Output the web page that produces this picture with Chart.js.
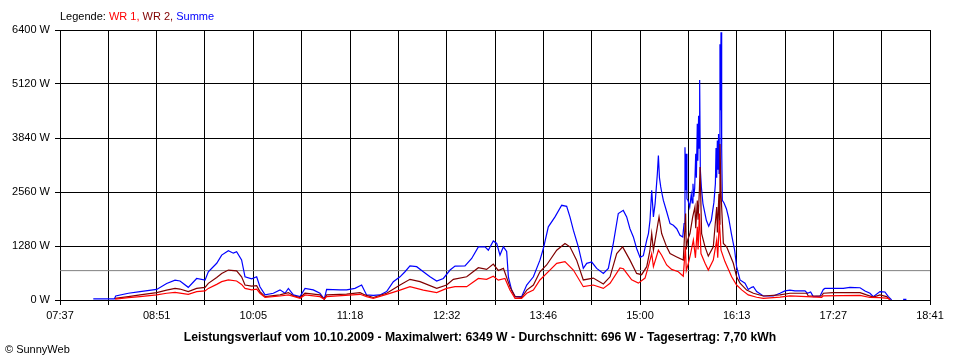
<!DOCTYPE html>
<html>
<head>
<meta charset="utf-8">
<script src="https://cdn.jsdelivr.net/npm/chart.js@4/dist/chart.umd.min.js"></script>
<style>
  html, body { margin: 0; padding: 0; background: #fff; }
  #wrap { position: relative; width: 960px; height: 360px; overflow: hidden; background: #fff; }
  canvas { position: absolute; left: 0; top: 0; }
  .txt { position: absolute; font-family: Arial, "Liberation Sans", sans-serif; color: #000; white-space: nowrap; }
  #legend { left: 60px; top: 11px; font-size: 11px; line-height: 11px; }
  #footer { left: 0; width: 960px; top: 330px; text-align: center; font-size: 12.2px; line-height: 14px; font-weight: bold; }
  #copy { left: 5px; top: 343px; font-size: 11px; line-height: 13px; }
</style>
</head>
<body>
<div id="wrap">
  <canvas id="c" width="960" height="360"></canvas>
  <div class="txt" id="legend">Legende: <span style="color:#ff0000">WR 1,</span> <span style="color:#800000">WR 2,</span> <span style="color:#0000ff">Summe</span></div>
  <div class="txt" id="footer">Leistungsverlauf vom 10.10.2009 - Maximalwert: 6349 W - Durchschnitt: 696 W - Tagesertrag: 7,70 kWh</div>
  <div class="txt" id="copy">© SunnyWeb</div>
</div>
<script>
// ---- data (time in minutes after midnight, power in W) ----
const xTickLabels = ['07:37','08:51','10:05','11:18','12:32','13:46','15:00','16:13','17:27','18:41'];
const yMax = 6400;
const yStep = 1280;
const avgWatt = 696;

const sumTime = [482.4,498.5,499.5,509.2,518.1,530.8,538.4,544.8,548.6,554.9,561.3,567.7,570.2,576.6,580.4,585.5,589.3,591.8,595.6,598.2,603.3,607.1,609.6,613.5,619.8,624.9,628.7,631.3,635.1,640.2,644.0,650.3,655.4,658.7,660.5,670.7,675.8,682.1,687.2,691.0,696.1,701.2,706.3,711.4,716.5,720.3,724.1,729.2,734.3,739.4,744.5,749.6,754.7,758.5,766.1,771.2,776.3,781.4,783.9,787.7,790.3,792.8,795.4,797.9,799.2,801.7,804.3,809.3,813.2,818.3,823.3,825.9,829.7,834.8,839.9,843.7,846.2,848.8,852.6,856.4,859.0,862.8,866.6,871.7,875.5,879.3,883.1,886.9,889.5,892.0,894.6,897.1,899.7,902.2,904.8,906.1,907.3,908.6,909.9,911.2,912.9,913.7,914.5,915.5,916.2,917.5,920.1,922.6,925.1,927.7,930.2,932.3,933.3,934.0,934.5,935.0,935.5,936.3,937.6,938.8,939.5,940.1,940.7,941.4,942.2,942.7,943.4,943.8,944.4,944.8,945.2,945.7,946.5,947.7,950.3,952.1,954.1,956.1,957.2,957.7,958.2,958.7,959.2,959.6,960.0,960.7,961.1,961.5,962.0,962.5,963.8,965.6,967.3,969.4,971.9,973.4,976.0,979.8,982.3,984.9,986.2,988.7,993.8,1001.4,1006.5,1010.3,1014.1,1017.9,1025.6,1027.4,1029.9,1031.9,1037.0,1039.6,1040.8,1047.2,1054.8,1059.9,1067.6,1071.4,1075.2,1077.7,1082.8,1086.6,1089.2,1091.7,1096.0,1100.5,1103.0];
const sumWatt = [25,25,95,160,200,250,390,470,450,300,510,470,670,870,1065,1170,1110,1145,950,550,500,550,315,120,160,240,160,275,120,80,275,240,160,20,250,240,240,275,355,120,110,120,200,435,550,670,810,790,670,550,450,510,710,805,810,985,1260,1260,1180,1400,1340,1065,1260,1150,550,235,80,80,355,550,945,1220,1735,1970,2245,2220,1970,1655,1260,750,870,900,750,630,750,1340,2050,2125,1970,1690,1495,1220,1010,1050,1420,1575,1890,2600,1970,2285,2990,3425,2900,2680,2560,2360,2085,1810,1770,1690,1535,1495,1810,3620,2600,3465,2400,2360,2200,2500,2300,2755,2450,2650,3465,2900,4175,3300,4370,3600,5215,3100,2680,2285,1890,1750,1890,2320,2755,3600,2900,3780,3100,3935,3000,6065,4500,6349,3600,2360,2300,2165,1950,1575,1180,790,475,400,250,300,315,200,95,95,160,215,235,215,215,160,190,80,90,250,275,275,275,300,290,215,160,80,200,190,80,0,null,15,15];

const wr2Time = [499.0,509.2,518.1,530.8,538.4,544.8,548.6,554.9,561.3,567.7,570.2,576.6,580.4,585.5,591.8,595.6,598.2,603.3,607.1,609.6,613.5,624.9,631.3,635.1,640.2,644.0,655.4,658.7,660.5,675.7,686.0,689.8,696.1,706.3,716.5,724.1,731.8,744.5,752.1,757.2,767.4,776.3,782.6,787.7,791.5,795.4,800.4,804.3,809.3,813.2,818.3,823.3,828.4,836.1,842.4,846.2,851.3,856.4,864.0,871.7,876.8,881.9,886.4,892.0,897.1,900.9,904.8,907.3,908.6,909.9,912.9,914.2,916.2,920.0,922.6,927.7,932.7,934.5,935.0,936.0,937.8,939.9,941.6,942.2,943.4,944.0,945.0,945.5,946.7,949.3,951.8,955.6,958.2,958.7,959.9,960.3,960.7,961.5,963.3,965.8,970.9,973.4,976.0,981.1,986.2,993.8,1006.5,1014.1,1026.9,1028.1,1038.3,1039.6,1047.2,1067.6,1072.6,1077.7,1082.8,1087.9,1090.5];
const wr2Watt = [40,80,120,175,235,275,260,200,275,300,395,535,630,710,690,550,355,330,340,200,80,120,175,100,60,160,120,20,120,140,175,120,60,160,355,490,435,275,355,490,550,765,725,850,700,750,315,80,60,235,355,670,830,1180,1340,1260,945,475,520,380,550,1100,1260,945,630,600,790,1180,1575,1180,1735,1970,1575,1260,1100,1020,945,2050,1200,1420,1575,1970,2205,1700,2360,1900,2600,3150,1575,1260,1040,1260,2205,1600,2520,1800,3700,2520,1340,1260,870,550,400,235,160,95,120,160,160,95,95,160,175,175,120,70,120,80,0];

const wr1Time = [499.0,509.2,518.1,530.8,538.4,544.8,554.9,561.3,567.7,570.2,576.6,580.4,585.5,591.8,595.6,598.2,603.3,607.1,609.6,613.5,624.9,631.3,640.2,644.0,655.4,658.7,660.5,686.0,691.0,696.1,706.3,716.5,724.1,734.3,744.5,752.1,758.5,767.4,776.3,782.6,787.7,791.5,796.6,800.4,804.3,809.3,813.2,818.3,823.3,828.4,836.1,842.4,848.8,856.4,864.0,871.7,876.8,884.4,887.0,893.3,898.4,903.5,906.0,908.6,909.9,913.7,916.2,920.0,923.8,928.9,932.7,934.3,935.0,936.6,938.3,940.4,942.0,943.4,944.0,945.0,946.2,949.3,951.8,955.6,958.2,959.0,960.2,961.5,964.5,969.6,973.4,977.3,982.3,988.7,993.8,1006.5,1014.1,1026.9,1038.3,1039.6,1067.6,1075.2,1082.8,1089.2,1090.5];
const wr1Watt = [20,55,80,120,160,180,135,200,215,275,370,435,475,450,370,275,240,255,160,60,95,120,40,120,80,20,80,135,80,40,135,235,315,235,175,275,315,315,510,490,565,470,510,235,40,40,160,235,475,630,870,910,710,315,355,275,395,760,740,480,400,520,790,1100,790,1180,1060,830,725,670,565,1260,700,870,1100,1420,1000,1735,1200,2050,1100,870,710,945,1420,1000,1890,1180,910,550,355,240,120,65,40,70,100,80,60,100,110,60,55,40,0];

// ---- helpers ----
function toMin(s) { const p = s.split(':'); return +p[0] * 60 + +p[1]; }
function pts(t, w) { return t.map((x, i) => ({ x: x, y: w[i] })); }
const xMin = toMin(xTickLabels[0]);
const xMax = toMin(xTickLabels[xTickLabels.length - 1]);
const nDiv = (xTickLabels.length - 1) * 2;
const gridTimes = [];
for (let i = 0; i <= nDiv; i++) gridTimes.push(xMin + i * (xMax - xMin) / nDiv);

Chart.defaults.font.family = 'Arial, "Liberation Sans", sans-serif';
Chart.defaults.font.size = 11;
Chart.defaults.color = '#000';

new Chart(document.getElementById('c'), {
  type: 'line',
  data: {
    datasets: [
      { label: 'Durchschnitt', data: [{ x: xMin, y: avgWatt }, { x: xMax, y: avgWatt }], borderColor: '#808080', borderWidth: 1, pointRadius: 0, order: 4 },
      { label: 'Summe', data: pts(sumTime, sumWatt), borderColor: '#0000ff', borderWidth: 1.2, pointRadius: 0, spanGaps: false, order: 3 },
      { label: 'WR 2', data: pts(wr2Time, wr2Watt), borderColor: '#800000', borderWidth: 1.2, pointRadius: 0, order: 2 },
      { label: 'WR 1', data: pts(wr1Time, wr1Watt), borderColor: '#ff0000', borderWidth: 1.2, pointRadius: 0, order: 1 }
    ]
  },
  options: {
    responsive: false,
    animation: false,
    events: [],
    parsing: true,
    layout: { padding: { top: 30, right: 30, left: 0, bottom: 0 } },
    plugins: { legend: { display: false }, tooltip: { enabled: false }, title: { display: false } },
    elements: { line: { tension: 0 } },
    scales: {
      x: {
        type: 'linear',
        min: xMin,
        max: xMax,
        afterBuildTicks: (scale) => { scale.ticks = gridTimes.map(v => ({ value: v })); },
        afterFit: (scale) => { scale.height = 60; },
        ticks: {
          autoSkip: false,
          maxRotation: 0,
          padding: 4,
          color: '#000',
          font: { size: 11 },
          callback: (v, i) => (i % 2 === 0 ? xTickLabels[i / 2] : '')
        },
        grid: { color: '#000', lineWidth: 1, tickLength: 5, drawTicks: true },
        border: { display: true, color: '#000' }
      },
      y: {
        min: 0,
        max: yMax,
        afterFit: (scale) => { scale.width = 60; },
        ticks: {
          stepSize: yStep,
          padding: 5,
          color: '#000',
          font: { size: 11 },
          callback: (v) => v + ' W'
        },
        grid: { color: '#000', lineWidth: 1, tickLength: 5, drawTicks: true },
        border: { display: true, color: '#000' }
      }
    }
  }
});
</script>
</body>
</html>
